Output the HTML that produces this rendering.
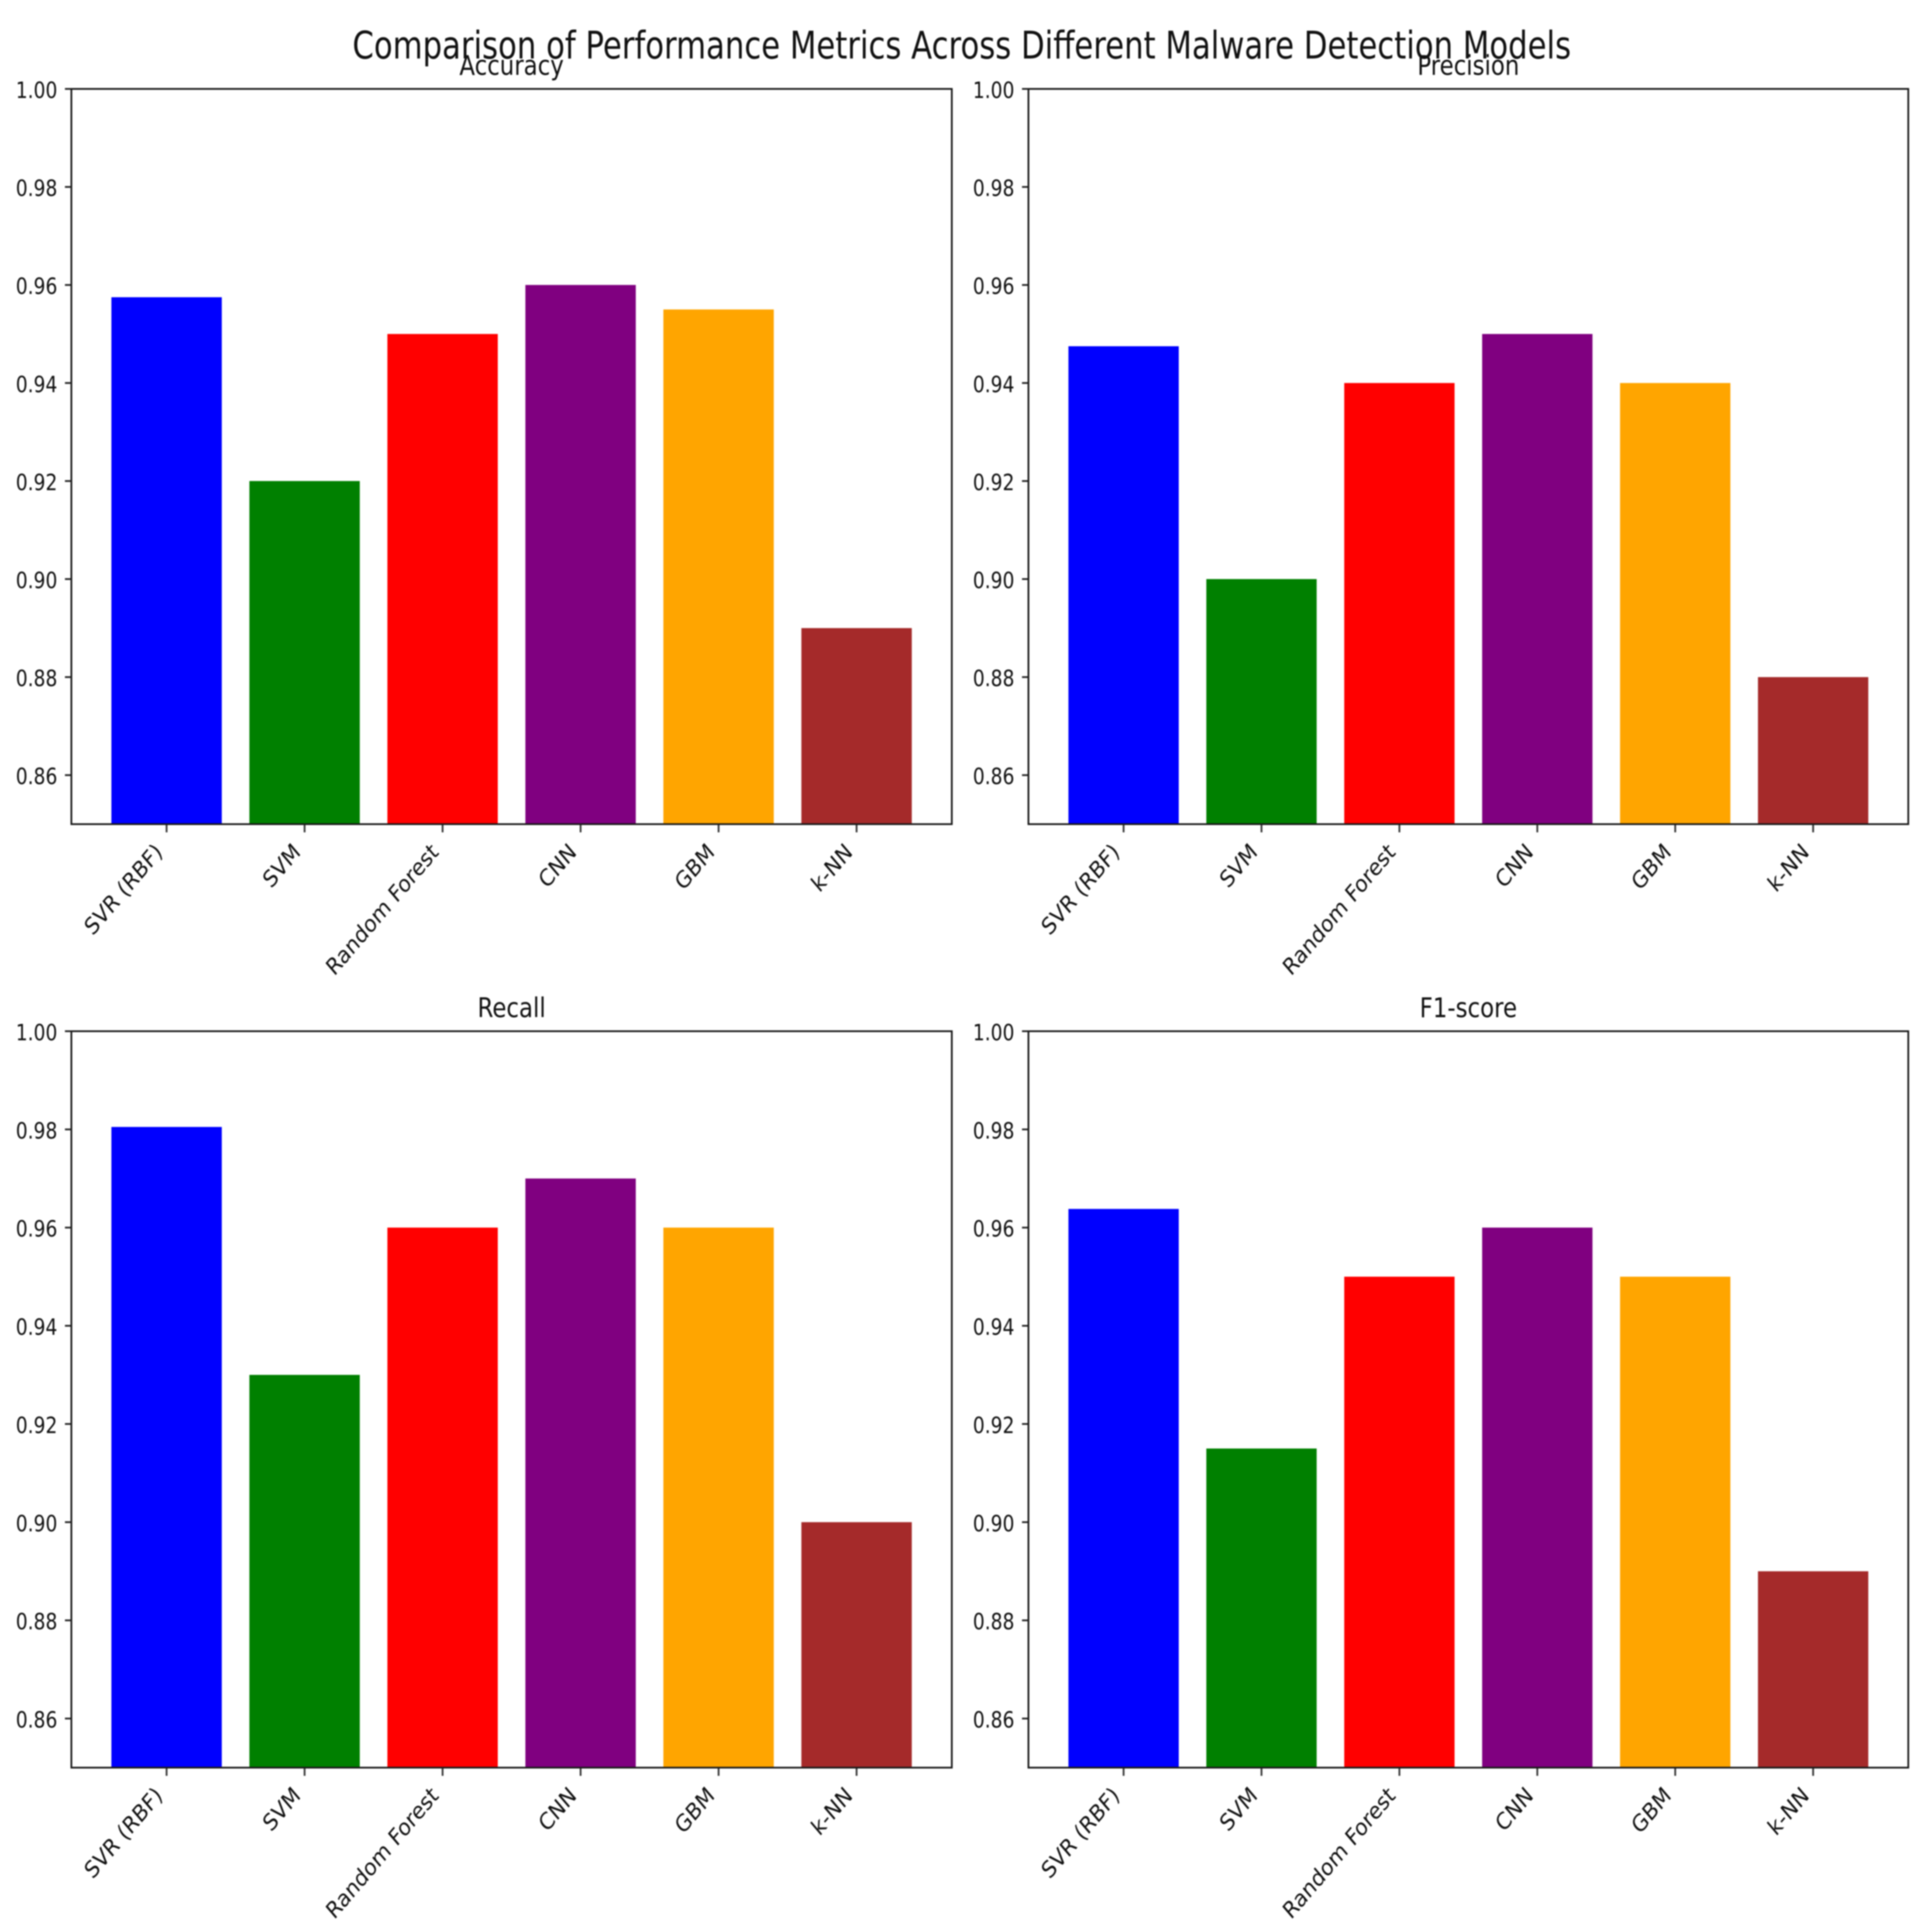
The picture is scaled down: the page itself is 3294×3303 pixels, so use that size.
<!DOCTYPE html>
<html lang="en">
<head>
<meta charset="utf-8">
<title>Comparison of Performance Metrics Across Different Malware Detection Models</title>
<style>
html,body{margin:0;padding:0;background:#fff;}
svg{display:block;filter:blur(1px);}
text{font-family:"DejaVu Sans","Liberation Sans",sans-serif;fill:#111;}
</style>
</head>
<body>
<svg id="figure" xmlns="http://www.w3.org/2000/svg" width="3294" height="3303" viewBox="0 0 3294 3303">
<rect x="0" y="0" width="3294" height="3303" fill="#fff"/>
<text transform="translate(1644,100) scale(0.808,1)" text-anchor="middle" font-size="65">Comparison of Performance Metrics Across Different Malware Detection Models</text>
</svg>
<script>
var models = ['SVR (RBF)', 'SVM', 'Random Forest', 'CNN', 'GBM', 'k-NN'];
var barColors = ['#0000ff', '#008000', '#ff0000', '#800080', '#ffa500', '#a52a2a'];
var yTickLabels = ['0.86', '0.88', '0.90', '0.92', '0.94', '0.96', '0.98', '1.00'];
var accuracyValues = [0.9575, 0.92, 0.95, 0.96, 0.955, 0.89];
var precisionValues = [0.9475, 0.90, 0.94, 0.95, 0.94, 0.88];
var recallValues = [0.9805, 0.93, 0.96, 0.97, 0.96, 0.90];
var f1Values = [0.9638, 0.915, 0.95, 0.96, 0.95, 0.89];

var panels = [
  {key: 'accuracy', title: 'Accuracy', values: accuracyValues, left: 122, right: 1627, top: 152, bottom: 1409},
  {key: 'precision', title: 'Precision', values: precisionValues, left: 1758, right: 3262, top: 152, bottom: 1409},
  {key: 'recall', title: 'Recall', values: recallValues, left: 122, right: 1627, top: 1763, bottom: 3022},
  {key: 'f1-score', title: 'F1-score', values: f1Values, left: 1758, right: 3262, top: 1763, bottom: 3022}
];

var NS = 'http://www.w3.org/2000/svg';
var svg = document.getElementById('figure');
var yMin = 0.85, yMax = 1.0, barWidth = 0.8;

function make(tag, attrs, parent, content) {
  var node = document.createElementNS(NS, tag);
  for (var k in attrs) { node.setAttribute(k, attrs[k]); }
  if (content !== undefined) { node.textContent = content; }
  parent.appendChild(node);
  return node;
}

function drawPanel(p) {
  var xDomainMin = -0.5 * barWidth - 0.05 * (models.length - 1 + barWidth);
  var xDomainMax = models.length - 1 + 0.5 * barWidth + 0.05 * (models.length - 1 + barWidth);
  function xScale(v) { return p.left + (v - xDomainMin) / (xDomainMax - xDomainMin) * (p.right - p.left); }
  function yScale(v) { return p.bottom - (v - yMin) / (yMax - yMin) * (p.bottom - p.top); }

  var g = make('g', {}, svg);
  
  

  models.forEach(function (m, i) {
    var x0 = xScale(i - barWidth / 2), x1 = xScale(i + barWidth / 2), y = yScale(p.values[i]);
    var bar = make('rect', {x: x0, y: y, width: x1 - x0, height: p.bottom - y, fill: barColors[i]}, g);
    
    

    var tx = xScale(i);
    var tick = make('line', {x1: tx, x2: tx, y1: p.bottom, y2: p.bottom + 14, stroke: '#333', 'stroke-width': 3}, g);
    
    

    var label = make('text', {
      transform: 'translate(' + (tx - 5) + ',' + (p.bottom + 50) + ') scale(0.94,1.1) rotate(-45)',
      'text-anchor': 'end', 'font-size': 36, fill: '#222'
    }, g, m);
    
    
  });

  yTickLabels.forEach(function (t) {
    var ty = yScale(parseFloat(t));
    var tick = make('line', {x1: p.left - 11, x2: p.left, y1: ty, y2: ty, stroke: '#222', 'stroke-width': 3}, g);
    
    

    var label = make('text', {
      transform: 'translate(' + (p.left - 24) + ',' + (ty + 15.5) + ') scale(0.84,1)',
      'text-anchor': 'end', 'font-size': 38, fill: '#222'
    }, g, t);
    
    
  });

  var frame = make('rect', {
    x: p.left, y: p.top, width: p.right - p.left, height: p.bottom - p.top,
    fill: 'none', stroke: '#1a1a1a', 'stroke-width': 3
  }, g);
  
  

  var title = make('text', {
    transform: 'translate(' + ((p.left + p.right) / 2) + ',' + (p.top - 24) + ') scale(0.85,1)',
    'text-anchor': 'middle', 'font-size': 46
  }, g, p.title);
  
  
}

panels.forEach(drawPanel);
</script>
</body>
</html>
